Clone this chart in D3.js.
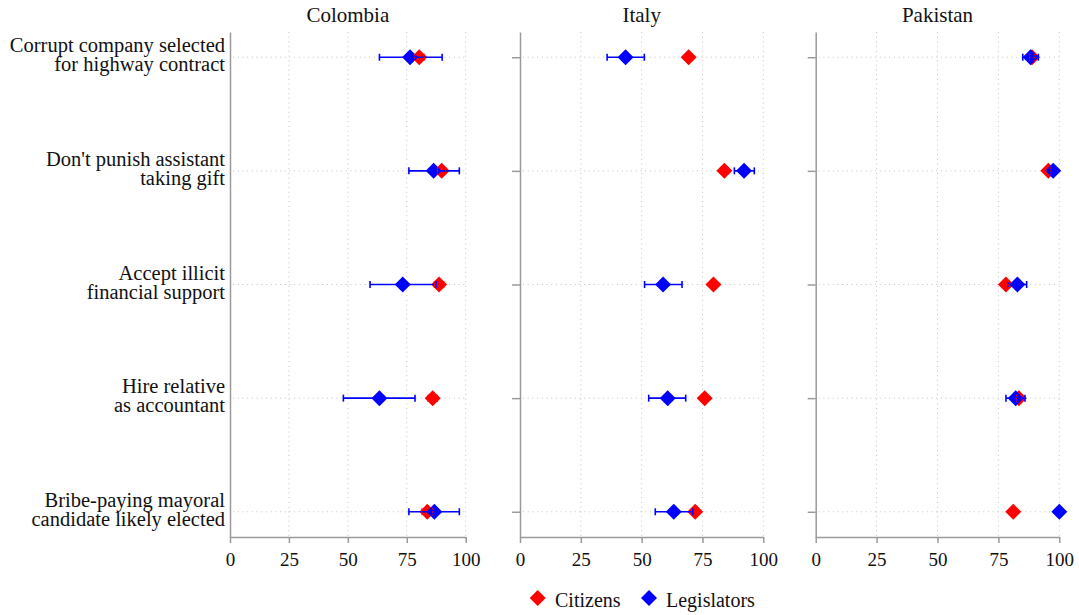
<!DOCTYPE html>
<html>
<head>
<meta charset="utf-8">
<script src="https://cdn.jsdelivr.net/npm/d3@7"></script>
<style>
  body { margin: 0; background: #fff; }
  text { font-family: "Liberation Serif", "Times New Roman", serif; fill: #111; }
</style>
</head>
<body>
<div id="chart"></div>
<script>
////// DATA
var countries = ["Colombia", "Italy", "Pakistan"];
var questions = [
    ["Corrupt company selected", "for highway contract"],
    ["Don't punish assistant", "taking gift"],
    ["Accept illicit", "financial support"],
    ["Hire relative", "as accountant"],
    ["Bribe-paying mayoral", "candidate likely elected"]
];
var xTicks = [0, 25, 50, 75, 100];

// one row per country, one value per question
var citizens = [
    [80.3, 89.8, 88.7, 86.0, 83.7],
    [69.3, 84.0, 79.5, 75.9, 72.0],
    [88.8, 95.5, 78.1, 83.4, 81.1]
];
var citizensErr = [
    [2.1, 1.8, 2.0, 2.0, 2.3],
    [1.5, 1.5, 1.5, 1.5, 1.5],
    [1.0, 1.0, 1.0, 1.0, 1.0]
];
var legislators = [
    [76.4, 86.4, 73.3, 63.4, 86.7],
    [43.4, 92.1, 58.8, 60.7, 63.2],
    [88.2, 97.5, 82.8, 82.1, 100]
];
var legislatorsLow = [
    [63.4, 75.9, 59.4, 48.1, 75.9],
    [35.8, 88.1, 51.2, 52.9, 55.6],
    [85.0, 96.0, 79.1, 78.1, 100]
];
var legislatorsHigh = [
    [90.0, 97.3, 87.4, 78.5, 97.3],
    [51.1, 96.3, 66.6, 68.1, 71.0],
    [91.4, 99.0, 86.6, 85.9, 100]
];

////// SETUP SVG
var W = 1079, H = 615;
var plotTop = 32, plotBottom = 537;
var panels = [
    { left: 230, right: 465.7, yTicks: false },
    { left: 520, right: 763.3, yTicks: true },
    { left: 815.7, right: 1059.3, yTicks: true }
];
var red = "#ff0000", blue = "#0000ff";
var axisGray = "#9a9a9a", gridGray = "#c4c4c4";

var svg = d3.select("#chart").append("svg")
    .attr("width", W)
    .attr("height", H);

var y = d3.scalePoint()
    .domain(d3.range(questions.length))
    .range([plotTop, plotBottom])
    .padding(0.222);

var diamond = d3.symbol().type(d3.symbolSquare).size(128);

////// ROW LABELS
questions.forEach(function(q, i) {
    var t = svg.append("text")
        .attr("text-anchor", "end")
        .attr("font-size", "20.5px");
    t.append("tspan").attr("x", 225).attr("y", y(i) - 5).text(q[0]);
    t.append("tspan").attr("x", 225).attr("y", y(i) + 14).text(q[1]);
});

////// PANELS
countries.forEach(function(country, c) {
    var p = panels[c];
    var x = d3.scaleLinear().domain([0, 100]).range([p.left, p.right]);
    var g = svg.append("g");

    // title
    g.append("text")
        .attr("x", (p.left + p.right) / 2)
        .attr("y", 22)
        .attr("text-anchor", "middle")
        .attr("font-size", "21px")
        .text(country);

    // vertical grid
    g.selectAll(".vgrid")
        .data(xTicks.filter(function(d) { return d > 0; }))
        .enter().append("line")
        .attr("x1", function(d) { return x(d); })
        .attr("x2", function(d) { return x(d); })
        .attr("y1", plotTop)
        .attr("y2", plotBottom)
        .attr("stroke", gridGray)
        .attr("stroke-width", 1)
        .attr("stroke-dasharray", "1,3.7");

    // horizontal grid
    g.selectAll(".hgrid")
        .data(questions)
        .enter().append("line")
        .attr("x1", x(0) + 3)
        .attr("x2", x(100))
        .attr("y1", function(d, i) { return y(i); })
        .attr("y2", function(d, i) { return y(i); })
        .attr("stroke", gridGray)
        .attr("stroke-width", 1)
        .attr("stroke-dasharray", "1,3.7");

    // bottom axis
    var xAxis = g.append("g")
        .attr("transform", "translate(0," + plotBottom + ")")
        .call(d3.axisBottom(x).tickValues(xTicks).tickSize(6).tickPadding(10).tickSizeOuter(0));
    xAxis.select(".domain").attr("stroke", axisGray).attr("stroke-width", 1.5);
    xAxis.selectAll(".tick line").attr("stroke", axisGray).attr("stroke-width", 1.5);
    xAxis.selectAll(".tick text")
        .attr("font-size", "19px")
        .attr("fill", "#111");

    // left axis
    var yAxis = g.append("g")
        .attr("transform", "translate(" + p.left + ",0)")
        .call(d3.axisLeft(y).tickSize(p.yTicks ? 8 : 0).tickSizeOuter(0).tickFormat(""));
    yAxis.select(".domain").attr("stroke", axisGray).attr("stroke-width", 1.5);
    yAxis.selectAll(".tick line").attr("stroke", axisGray).attr("stroke-width", 1.5);

    var rows = d3.range(questions.length);

    // citizens markers
    g.selectAll(".cit")
        .data(rows)
        .enter().append("path")
        .attr("d", diamond)
        .attr("transform", function(i) {
            return "translate(" + x(citizens[c][i]) + "," + y(i) + ") rotate(45)";
        })
        .attr("fill", red);

    // legislators error bars
    var eb = g.selectAll(".legerr")
        .data(rows)
        .enter().append("g")
        .attr("stroke", blue)
        .attr("stroke-width", 1.6);
    eb.append("line")
        .attr("x1", function(i) { return x(legislatorsLow[c][i]); })
        .attr("x2", function(i) { return x(legislatorsHigh[c][i]); })
        .attr("y1", function(i) { return y(i); })
        .attr("y2", function(i) { return y(i); });
    [legislatorsLow, legislatorsHigh].forEach(function(arr) {
        eb.append("line")
            .attr("x1", function(i) { return x(arr[c][i]); })
            .attr("x2", function(i) { return x(arr[c][i]); })
            .attr("y1", function(i) { return y(i) - 3.5; })
            .attr("y2", function(i) { return y(i) + 3.5; });
    });

    // legislators markers
    g.selectAll(".leg")
        .data(rows)
        .enter().append("path")
        .attr("d", diamond)
        .attr("transform", function(i) {
            return "translate(" + x(legislators[c][i]) + "," + y(i) + ") rotate(45)";
        })
        .attr("fill", blue);

    // citizens error bars (narrow)
    var cb = g.selectAll(".citerr")
        .data(rows)
        .enter().append("g")
        .attr("stroke", red)
        .attr("stroke-width", 1.2)
        .attr("stroke-dasharray", "1.5,1.5");
    [-1, 1].forEach(function(s) {
        cb.append("line")
            .attr("x1", function(i) { return x(citizens[c][i] + s * citizensErr[c][i]); })
            .attr("x2", function(i) { return x(citizens[c][i] + s * citizensErr[c][i]); })
            .attr("y1", function(i) { return y(i) - 3.5; })
            .attr("y2", function(i) { return y(i) + 3.5; });
    });
});

////// LEGEND
var legend = [
    { label: "Citizens", color: red, x: 537.7, tx: 555 },
    { label: "Legislators", color: blue, x: 649, tx: 666 }
];
legend.forEach(function(l) {
    svg.append("path")
        .attr("d", diamond)
        .attr("transform", "translate(" + l.x + ",598) rotate(45)")
        .attr("fill", l.color);
    svg.append("text")
        .attr("x", l.tx)
        .attr("y", 607)
        .attr("font-size", "20px")
        .text(l.label);
});
</script>
</body>
</html>
